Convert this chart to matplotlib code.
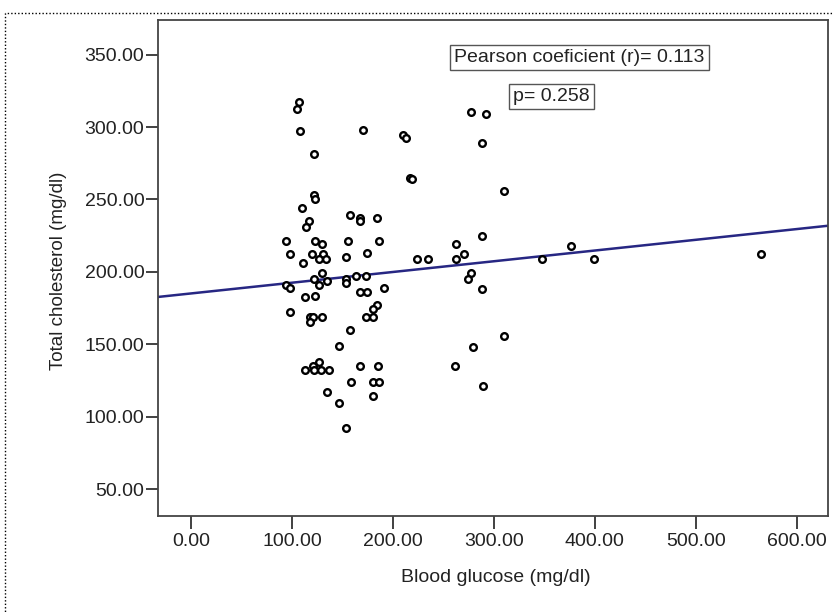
import matplotlib
matplotlib.use('Agg')

import matplotlib.pyplot as plt
from matplotlib.patches import Rectangle
from matplotlib.ticker import FormatStrFormatter

plt.rcParams['font.family'] = ['Liberation Sans', 'DejaVu Sans']

# blood glucose (mg/dl) vs total cholesterol (mg/dl)
glucose = [107.1, 104.9, 108.1, 121.7, 169.9, 121.7, 122.7, 110.1, 157.4, 167.4,
           167.4, 117.1, 113.8, 93.9, 122.7, 130.0, 155.8, 98.2, 119.7, 131.0,
           127.0, 133.6, 153.8, 174.3, 111.1, 130.0, 121.7, 127.0, 135.2, 93.9,
           98.2, 153.8, 153.8, 163.7, 173.6, 112.8, 123.3, 167.4, 174.3, 98.2,
           118.1, 121.3, 118.1, 130.0, 173.6, 157.4, 146.5, 167.4, 127.0, 121.3,
           122.0, 113.1, 129.0, 136.9, 158.7, 134.9, 146.5, 153.8, 277.5, 292.4,
           210.0, 213.3, 288.4, 216.6, 219.0, 309.8, 184.5, 186.5, 288.4, 262.6,
           270.5, 223.9, 234.8, 262.6, 347.5, 376.0, 399.1, 564.5, 277.5, 274.1,
           191.2, 288.4, 184.5, 180.3, 180.3, 309.8, 279.5, 185.2, 261.6, 180.3,
           186.5, 180.3, 289.4]
cholesterol = [317.0, 312.2, 297.0, 281.2, 298.1, 253.1, 250.3, 244.1, 239.1, 237.2,
               235.2, 235.2, 231.2, 221.2, 221.2, 219.1, 221.2, 212.2, 212.2, 212.2,
               208.8, 208.8, 210.1, 213.1, 206.2, 199.1, 195.2, 191.2, 194.0, 191.2,
               189.2, 195.0, 192.2, 197.2, 197.2, 182.6, 183.2, 186.0, 186.0, 172.2,
               169.2, 169.2, 165.3, 169.2, 169.2, 160.2, 149.2, 135.4, 138.1, 135.4,
               132.2, 132.2, 132.2, 132.2, 124.3, 117.2, 109.4, 92.2, 310.1, 309.2,
               294.3, 292.2, 289.2, 265.0, 264.3, 256.1, 237.4, 221.2, 225.0, 219.3,
               212.2, 209.2, 209.2, 209.2, 209.2, 218.1, 209.0, 212.2, 199.5, 195.2,
               189.2, 188.3, 177.2, 174.3, 169.2, 156.1, 148.3, 135.2, 135.2, 124.1,
               124.1, 114.5, 121.4]

# fit line as drawn on the chart
fit_intercept = 185.2
fit_slope = 0.074

pearson_text = "Pearson coeficient (r)= 0.113"
p_text = "p= 0.258"

x_ticks = [0, 100, 200, 300, 400, 500, 600]
y_ticks = [50, 100, 150, 200, 250, 300, 350]

fig = plt.figure(figsize=(8.34, 6.13), dpi=100)
ax = fig.add_axes([158 / 834, 1 - 516 / 613, 670 / 834, 496 / 613])

x_lo, x_hi = -32.7, 631.0
ax.plot([x_lo, x_hi], [fit_intercept + fit_slope * x_lo, fit_intercept + fit_slope * x_hi],
        color="#272783", linewidth=1.8, zorder=2)
ax.plot(glucose, cholesterol, linestyle="none", marker="o", markersize=4.8,
        markerfacecolor="white", markeredgecolor="black", markeredgewidth=1.7, zorder=3)

ax.set_xlim(x_lo, x_hi)
ax.set_ylim(31.7, 373.8)
ax.set_xticks(x_ticks)
ax.set_yticks(y_ticks)
ax.xaxis.set_major_formatter(FormatStrFormatter("%.2f"))
ax.yaxis.set_major_formatter(FormatStrFormatter("%.2f"))
ax.tick_params(axis="x", length=9, width=1.3, color="#333333", labelsize=14, pad=3.5,
               labelcolor="#222222")
ax.tick_params(axis="y", length=9, width=1.3, color="#333333", labelsize=14, pad=0.8,
               labelcolor="#222222")
for sp in ax.spines.values():
    sp.set_color("#444444")
    sp.set_linewidth(1.3)

ax.set_xlabel("Blood glucose (mg/dl)", fontsize=14, color="#222222")
ax.set_ylabel("Total cholesterol (mg/dl)", fontsize=13.5, color="#222222")
ax.xaxis.set_label_coords(0.504, -0.107)
ax.yaxis.set_label_coords(-0.136, 0.494)

box = dict(boxstyle="square,pad=0.22", facecolor="white", edgecolor="#555555", linewidth=1)
ax.text(384.9, 347.9, pearson_text, fontsize=14, ha="center", va="center", bbox=box,
        color="#222222")
ax.text(357.1, 321.0, p_text, fontsize=14, ha="center", va="center", bbox=box,
        color="#222222")

# dotted frame round the whole chart
fig.add_artist(Rectangle((5 / 834, -0.05), 1.0, 1 - 13 / 613 + 0.05, transform=fig.transFigure,
                         fill=False, edgecolor="black", linewidth=1, linestyle=(0, (1, 1.5)),
                         clip_on=False))

plt.savefig("out.png", dpi=100)
